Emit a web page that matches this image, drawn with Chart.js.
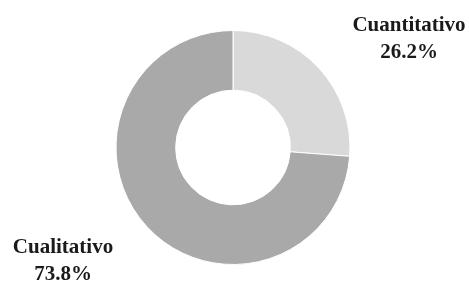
<!DOCTYPE html>
<html>
<head>
<meta charset="utf-8">
<script src="https://cdn.jsdelivr.net/npm/chart.js@4/dist/chart.umd.min.js"></script>
<style>
  html, body { margin: 0; padding: 0; background: #fff; }
  #wrap { width: 469px; height: 282px; position: relative; }
</style>
</head>
<body>
<div id="wrap"><canvas id="donut"></canvas></div>
<script>
const categories = ['Cuantitativo', 'Cualitativo'];
const shares = [26.2, 73.8];
const sliceColors = ['#d9d9d9', '#a9a9a9'];

// label anchor points (centre x, baseline of first line)
const labelPos = [{ x: 409, y: 31 }, { x: 63, y: 253 }];

const outsideLabels = {
    id: 'outsideLabels',
    afterDraw(chart) {
        const ctx = chart.ctx;
        ctx.save();
        ctx.fillStyle = '#1a1a1a';
        ctx.textAlign = 'center';
        ctx.textBaseline = 'alphabetic';
        ctx.font = 'bold 21px "Liberation Serif", "DejaVu Serif", serif';
        categories.forEach((c, i) => {
            const p = labelPos[i];
            ctx.fillText(c, p.x, p.y);
            ctx.fillText(shares[i].toFixed(1) + '%', p.x, p.y + 27);
        });
        ctx.restore();
    }
};

new Chart(document.getElementById('donut').getContext('2d'), {
    type: 'doughnut',
    data: {
        labels: categories,
        datasets: [{ data: shares, backgroundColor: sliceColors, borderColor: '#ffffff', borderWidth: 1 }]
    },
    options: {
        responsive: true,
        maintainAspectRatio: false,
        animation: false,
        cutout: '49%',
        layout: { padding: { top: 30, bottom: 17, left: 0, right: 3 } },
        plugins: { legend: { display: false }, tooltip: { enabled: false } }
    },
    plugins: [outsideLabels]
});
</script>
</body>
</html>
